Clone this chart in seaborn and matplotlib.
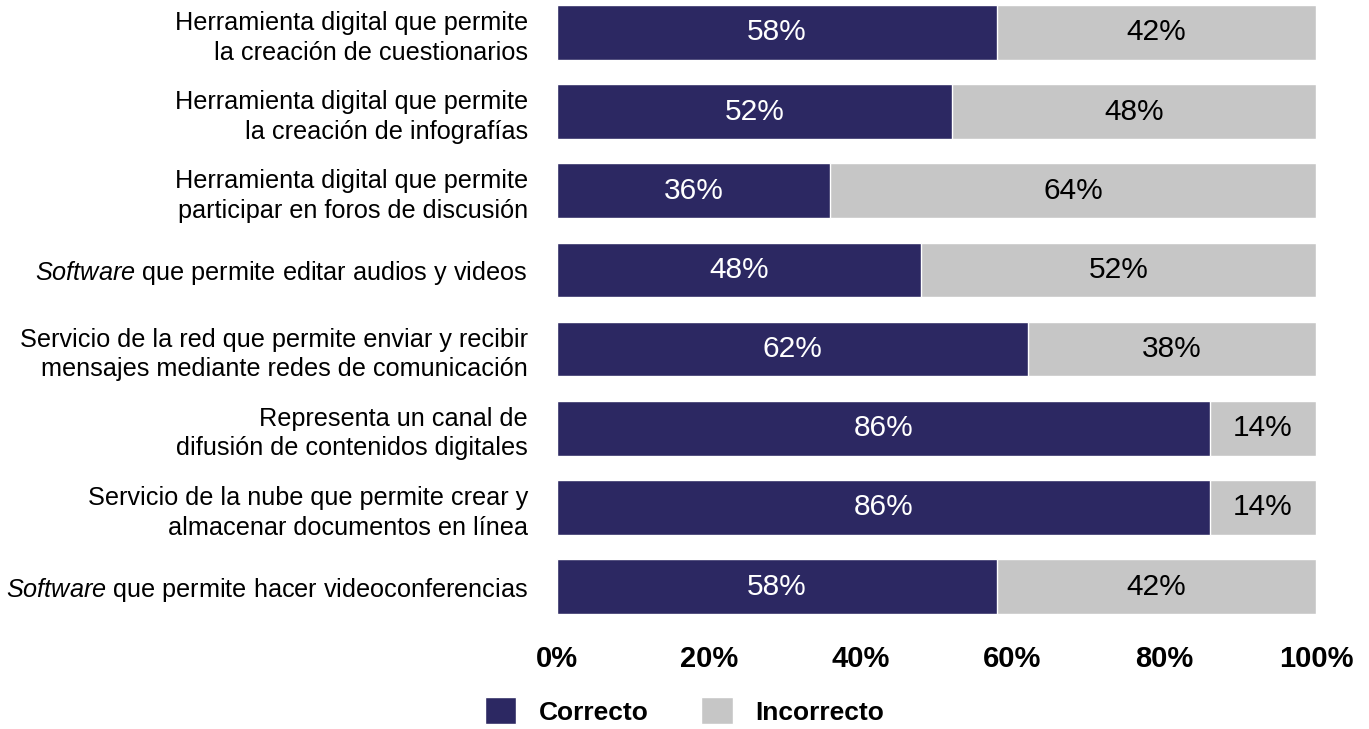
import pandas as pd
import matplotlib.pyplot as plt
import seaborn as sns
from matplotlib.patches import Patch

# Datos
categorias = [
    "Herramienta digital que permite\nla creación de cuestionarios",
    "Herramienta digital que permite\nla creación de infografías",
    "Herramienta digital que permite\nparticipar en foros de discusión",
    r"$\it{Software}$ que permite editar audios y videos",
    "Servicio de la red que permite enviar y recibir\nmensajes mediante redes de comunicación",
    "Representa un canal de\ndifusión de contenidos digitales",
    "Servicio de la nube que permite crear y\nalmacenar documentos en línea",
    r"$\it{Software}$ que permite hacer videoconferencias",
]
correcto = [58, 52, 36, 48, 62, 86, 86, 58]
incorrecto = [42, 48, 64, 52, 38, 14, 14, 42]
ticks_x = [0, 20, 40, 60, 80, 100]

azul = "#2C2862"
gris = "#C6C6C6"

df = pd.DataFrame({"cat": categorias, "Correcto": correcto, "Incorrecto": incorrecto})
df["total"] = df["Correcto"] + df["Incorrecto"]

sns.set_style("white")
plt.rcParams["font.family"] = ["Liberation Sans", "DejaVu Sans"]
plt.rcParams["mathtext.fontset"] = "custom"
plt.rcParams["mathtext.it"] = "Liberation Sans:italic"
plt.rcParams["mathtext.rm"] = "Liberation Sans"
plt.rcParams["text.color"] = "black"
plt.rcParams["xtick.color"] = "black"
plt.rcParams["ytick.color"] = "black"

fig = plt.figure(figsize=(13.69, 7.29), dpi=100)
ax = fig.add_axes([557 / 1369, 1 - 614 / 729, 759 / 1369, 609 / 729])

sns.barplot(data=df, x="total", y="cat", color=gris, orient="h", width=0.69,
            order=categorias, ax=ax, saturation=1)
sns.barplot(data=df, x="Correcto", y="cat", color=azul, orient="h", width=0.69,
            order=categorias, ax=ax, saturation=1)

# etiquetas de porcentaje
for i in range(len(categorias)):
    c = correcto[i]
    inc = incorrecto[i]
    ax.text(c / 2, i, f"{c}%", ha="center", va="center", color="white",
            fontsize=21.5, fontweight="medium")
    ax.text(c + inc / 2, i, f"{inc}%", ha="center", va="center", color="black",
            fontsize=21.5, fontweight="medium")

ax.set_xlim(0, 100)
ax.set_ylim(len(categorias) - 1 + 0.345, -0.345)
ax.set_xticks(ticks_x)
ax.set_xticklabels([f"{t}%" for t in ticks_x], fontsize=21, fontweight="bold")
ax.set_yticks(range(len(categorias)))
ax.set_yticklabels(categorias, fontsize=18.2, linespacing=1.3)
ax.tick_params(axis="both", length=0)
ax.tick_params(axis="y", pad=21)
ax.tick_params(axis="x", pad=22)
ax.set_xlabel("")
ax.set_ylabel("")
sns.despine(ax=ax, left=True, bottom=True)

handles = [Patch(facecolor=azul, label="Correcto"), Patch(facecolor=gris, label="Incorrecto")]
fig.legend(handles=handles, loc="center", bbox_to_anchor=(0.5, 1 - 711 / 729), ncol=2,
           frameon=False, prop={"size": 19, "weight": "bold"},
           handlelength=1.2, handleheight=1.2, handletextpad=0.85, columnspacing=2.0)

plt.savefig("out.png", dpi=100)
